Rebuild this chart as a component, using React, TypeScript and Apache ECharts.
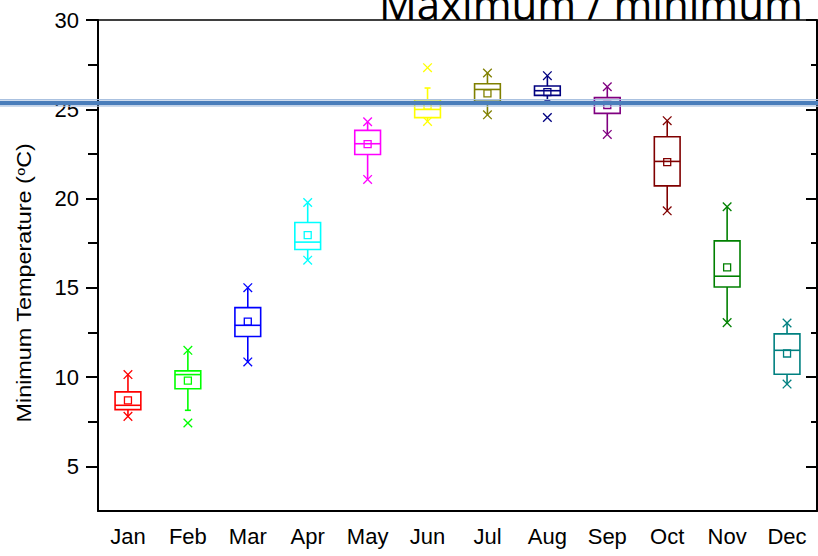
import React, { useEffect, useRef } from 'react';
import * as echarts from 'echarts';

const months = ['Jan', 'Feb', 'Mar', 'Apr', 'May', 'Jun', 'Jul', 'Aug', 'Sep', 'Oct', 'Nov', 'Dec'];
const minMark = [7.8, 7.43, 10.85, 16.55, 21.07, 24.32, 24.69, 24.54, 23.59, 19.31, 13.05, 9.61];
const whiskerLow = [7.8, 8.14, 10.85, 16.55, 21.07, 24.32, 24.69, 25.52, 23.59, 19.31, 13.05, 9.61];
const q1 = [8.18, 9.35, 12.27, 17.15, 22.47, 24.53, 25.44, 25.78, 24.77, 20.71, 15.05, 10.16];
const median = [8.42, 10.14, 12.9, 17.56, 23.07, 24.99, 26.11, 26.04, 25.37, 22.08, 15.65, 11.5];
const q3 = [9.17, 10.35, 13.89, 18.66, 23.82, 25.53, 26.43, 26.3, 25.65, 23.46, 17.63, 12.42];
const whiskerHigh = [10.14, 11.5, 15.01, 19.78, 24.3, 26.19, 27.03, 26.88, 26.26, 24.36, 19.54, 13.03];
const maxMark = [10.14, 11.5, 15.01, 19.78, 24.3, 27.33, 27.03, 26.88, 26.26, 24.36, 19.54, 13.03];
const mean = [8.7, 9.8, 13.11, 17.95, 23.05, 25.2, 25.89, 25.96, 25.24, 22.04, 16.14, 11.32];
const boxColors = ['#FF0000', '#00FF00', '#0000FF', '#00FFFF', '#FF00FF', '#FFFF00', '#808000', '#000080', '#800080', '#800000', '#008000', '#008080'];
const majorTicks = [5, 10, 15, 20, 25, 30];
const minorTicks = [7.5, 12.5, 17.5, 22.5, 27.5];
const yMin = 2.5;
const yMax = 30;
const referenceLine = 25.35;
const titleText = 'Maximum / minimum';

const FONT = '"Liberation Sans", Arial, sans-serif';

export default function App() {
  const ref = useRef<HTMLDivElement>(null);
  useEffect(() => {
    const chart = echarts.init(ref.current!, null, { renderer: 'svg' });
    const rows = months.map((_, i) => [i, minMark[i], whiskerLow[i], q1[i], median[i], q3[i], whiskerHigh[i], maxMark[i], mean[i]]);
    const black = '#000';
    const yBase = { type: 'value', min: yMin, max: yMax, splitLine: { show: false } };
    chart.setOption({
      animation: false,
      backgroundColor: '#fff',
      grid: { left: 98, right: 1, top: 20, bottom: 45 },
      xAxis: [
        {
          type: 'category', data: months, position: 'bottom',
          axisLine: { lineStyle: { color: black, width: 2 } },
          axisTick: { alignWithLabel: true, length: 9, lineStyle: { color: black, width: 2 } },
          axisLabel: { color: black, fontSize: 22, fontFamily: FONT, margin: 14 },
          splitLine: { show: false },
        },
        {
          type: 'category', data: months, position: 'top',
          axisLine: { lineStyle: { color: black, width: 1.5 } },
          axisTick: { alignWithLabel: true, inside: true, length: 9, lineStyle: { color: black, width: 2 } },
          axisLabel: { show: false },
          splitLine: { show: false },
        },
      ],
      yAxis: [
        {
          ...yBase, position: 'left',
          axisLine: { show: true, lineStyle: { color: black, width: 2 } },
          axisTick: { show: true, length: 12, customValues: majorTicks, lineStyle: { color: black, width: 2 } },
          axisLabel: { customValues: majorTicks, color: black, fontSize: 22, fontFamily: FONT, margin: 19 },
        },
        {
          ...yBase, position: 'left',
          axisLine: { show: false },
          axisTick: { show: true, length: 10, customValues: minorTicks, lineStyle: { color: black, width: 2 } },
          axisLabel: { show: false },
        },
        {
          ...yBase, position: 'right',
          axisLine: { show: true, lineStyle: { color: black, width: 2 } },
          axisTick: { show: true, inside: true, length: 11, customValues: majorTicks, lineStyle: { color: black, width: 2 } },
          axisLabel: { show: false },
        },
        {
          ...yBase, position: 'right',
          axisLine: { show: false },
          axisTick: { show: true, inside: true, length: 6, customValues: minorTicks, lineStyle: { color: black, width: 2 } },
          axisLabel: { show: false },
        },
      ],
      series: [
        {
          type: 'custom',
          xAxisIndex: 0,
          yAxisIndex: 0,
          clip: false,
          data: rows,
          encode: { x: 0, y: [1, 2, 3, 4, 5, 6, 7, 8] },
          renderItem: (params: any, api: any) => {
            const i = params.dataIndex;
            const col = boxColors[i];
            const xv = api.value(0);
            const p = (k: number) => api.coord([xv, api.value(k)]);
            const cx = p(4)[0];
            const yMinM = p(1)[1];
            const yWlo = p(2)[1];
            const yQ1 = p(3)[1];
            const yMed = p(4)[1];
            const yQ3 = p(5)[1];
            const yWhi = p(6)[1];
            const yMaxM = p(7)[1];
            const yMean = p(8)[1];
            const bw = api.size([1, 0])[0] * 0.43;
            const ls = { stroke: col, lineWidth: 1.6, fill: 'none' };
            const thin = { stroke: col, lineWidth: 1.3, fill: 'none' };
            const ch: any[] = [];
            const line = (x1: number, y1: number, x2: number, y2: number, st: any) =>
              ch.push({ type: 'line', shape: { x1, y1, x2, y2 }, style: st });
            ch.push({ type: 'rect', shape: { x: cx - bw / 2, y: yQ3, width: bw, height: yQ1 - yQ3 }, style: ls });
            line(cx - bw / 2, yMed, cx + bw / 2, yMed, ls);
            line(cx, yQ3, cx, yWhi, ls);
            line(cx, yQ1, cx, yWlo, ls);
            if (api.value(6) !== api.value(7)) line(cx - 3, yWhi, cx + 3, yWhi, ls);
            if (api.value(2) !== api.value(1)) line(cx - 3, yWlo, cx + 3, yWlo, ls);
            const s = 3.5;
            ch.push({ type: 'rect', shape: { x: cx - s, y: yMean - s, width: 2 * s, height: 2 * s }, style: thin });
            const m = 4.3;
            [yMinM, yMaxM].forEach((yy) => {
              line(cx - m, yy - m, cx + m, yy + m, thin);
              line(cx - m, yy + m, cx + m, yy - m, thin);
            });
            return { type: 'group', children: ch };
          },
        },
      ],
      graphic: [
        {
          id: 'title', type: 'text', x: 379, y: 3, z: 100,
          style: { text: titleText, fill: '#000', font: '42px "Open Sans", sans-serif', textAlign: 'left', textVerticalAlign: 'middle' },
        },
        {
          id: 'yname', type: 'text', x: 25, y: 283, rotation: Math.PI / 2, scaleX: 1.2, z: 100,
          style: {
            text: 'Minimum Temperature ({s|o}C)',
            fill: '#000', fontSize: 19.5, fontFamily: FONT, textAlign: 'center', textVerticalAlign: 'middle',
            rich: { s: { fontSize: 12, fontFamily: FONT, fill: '#000', verticalAlign: 'top' } },
          },
        },
      ],
    });
    const yl = chart.convertToPixel({ yAxisIndex: 0 }, referenceLine) as number;
    chart.setOption({
      graphic: [
        { id: 'refOuterTop', type: 'line', z: 90, shape: { x1: 0, y1: yl - 3.5, x2: 818, y2: yl - 3.5 }, style: { stroke: '#a9c1e0', lineWidth: 1 } },
        { id: 'refCore', type: 'rect', z: 91, shape: { x: 0, y: yl - 2.2, width: 818, height: 4.4 }, style: { fill: '#4a7ebb' } },
        { id: 'refOuterBot', type: 'line', z: 90, shape: { x1: 0, y1: yl + 3.2, x2: 818, y2: yl + 3.2 }, style: { stroke: '#b9cde6', lineWidth: 1 } },
      ],
    });
    return () => chart.dispose();
  }, []);
  return <div ref={ref} style={{ position: 'fixed', left: 0, top: 0, width: 818, height: 556, background: '#fff' }} />;
}
